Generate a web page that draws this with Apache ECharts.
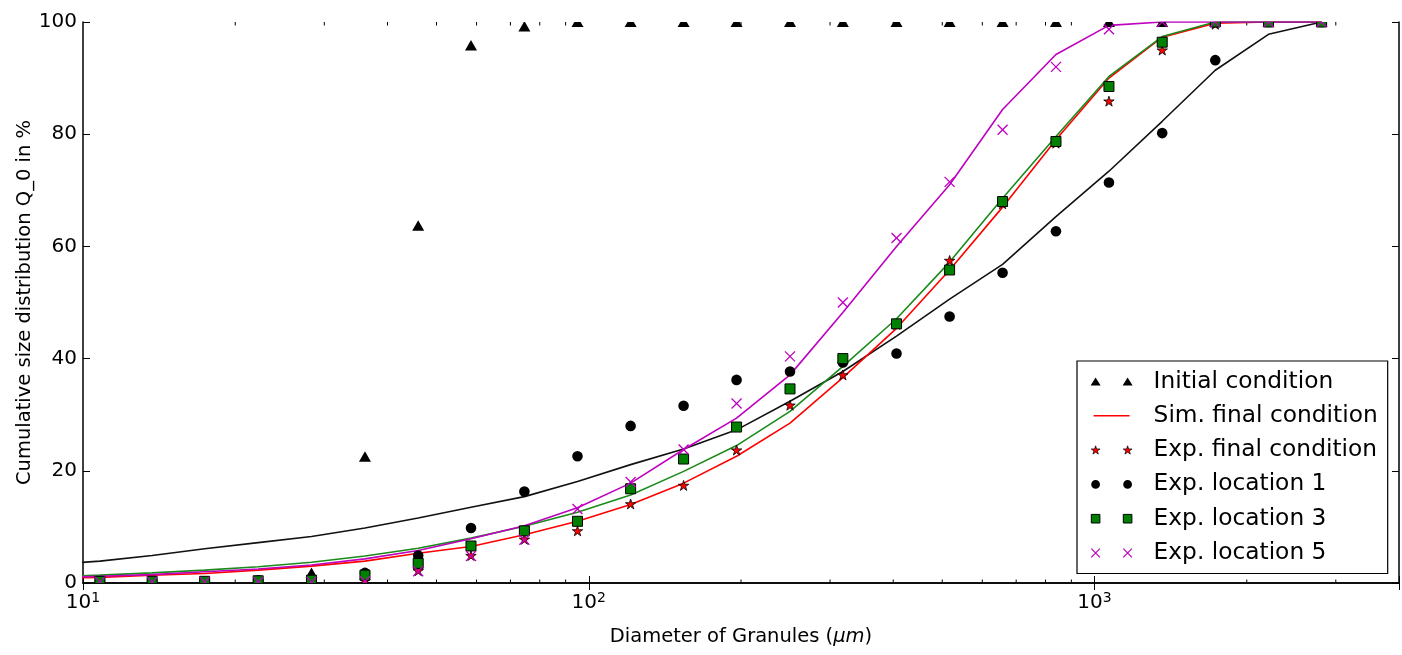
<!DOCTYPE html>
<html>
<head>
<meta charset="utf-8">
<script src="https://cdn.jsdelivr.net/npm/echarts@6/dist/echarts.min.js"></script>
<style>
  html, body { margin: 0; padding: 0; background: #ffffff; }
  #chart { width: 1402px; height: 655px; }
</style>
</head>
<body>
<div id="chart"></div>
<script>
// Granule diameter of each size class (µm)
const diameters = [10.8, 13.7, 17.4, 22.2, 28.3, 36.1, 46.0, 58.5, 74.6, 95.0, 121, 154,
                   196, 250, 318, 406, 517, 658, 839, 1068, 1361, 1733, 2208, 2812];
// Simulated curves carry one extra class below the plotted range
const simDiameters = [8.45].concat(diameters);

// Measured cumulative size distributions Q_0 (%)
const initialCondition = [0, 0, 0, 0, 1.8, 22.5, 63.7, 95.8, 99.2, 100, 100, 100,
                          100, 100, 100, 100, 100, 100, 100, 100, 100, 100, 100, 100];
const expFinal = [0.1, 0.1, 0.1, 0.2, 0.2, 0.3, 2.1, 4.8, 7.7, 9.2, 14.0, 17.3,
                  23.6, 31.6, 37.0, 46.0, 57.4, 67.5, 78.3, 85.8, 94.9, 99.5, 100, 100];
const expLocation1 = [0.2, 0.2, 0.2, 0.5, 0.6, 1.8, 4.9, 9.8, 16.3, 22.6, 28.0, 31.6,
                      36.2, 37.7, 39.3, 40.9, 47.5, 55.3, 62.7, 71.4, 80.2, 93.2, 100, 100];
const expLocation3 = [0.3, 0.3, 0.3, 0.4, 0.5, 1.4, 3.5, 6.6, 9.3, 11.0, 16.8, 22.1,
                      27.8, 34.6, 40.0, 46.2, 55.8, 68.0, 78.7, 88.5, 96.4, 100, 100, 100];
const expLocation5 = [0.2, 0.2, 0.2, 0.2, 0.2, 0.3, 2.1, 4.8, 7.7, 13.2, 18.0, 23.8,
                      32.0, 40.4, 50.0, 61.5, 71.5, 80.8, 92.0, 98.7, 100, 100, 100, 100];

// Simulated cumulative size distributions Q_0 (%), on simDiameters
const simFinal = [0.8, 1.0, 1.4, 1.7, 2.3, 3.0, 3.9, 5.3, 6.5, 8.6, 11.0, 14.0, 17.8,
                  22.6, 28.5, 36.6, 45.4, 55.8, 67.0, 79.0, 90.0, 97.3, 99.8, 100, 100];
const simLocation1 = [3.2, 3.9, 4.9, 6.1, 7.2, 8.3, 9.8, 11.6, 13.5, 15.4, 18.1, 21.1, 23.9,
                      27.3, 32.4, 37.7, 44.0, 50.6, 56.8, 65.3, 73.4, 82.3, 91.4, 97.8, 100];
const simLocation3 = [1.1, 1.4, 1.8, 2.3, 2.9, 3.7, 4.8, 6.2, 8.0, 10.1, 12.6, 15.7, 19.9,
                      24.5, 30.6, 38.6, 47.1, 57.2, 68.6, 79.6, 90.3, 97.4, 100, 100, 100];
const simLocation5 = [0.9, 1.2, 1.5, 2.0, 2.5, 3.2, 4.3, 5.8, 7.9, 10.2, 13.4, 17.8, 23.8,
                      29.4, 37.1, 48.2, 60.0, 71.0, 84.4, 94.2, 99.4, 100, 100, 100, 100];

// Axis ranges and tick settings
const xRange = [10, 4000];
const yRange = [0, 100];
const yTickStep = 20;

const FONT = 'DejaVu Sans';
const pairs = (xs, ys) => xs.map((x, i) => [x, ys[i]]);

// Minor ticks of the log axis: 2..9 × each decade
const minorTickValues = [];
[10, 100, 1000].forEach(d => {
  for (let m = 2; m <= 9; m++) if (m * d < xRange[1]) minorTickValues.push(m * d);
});

// ---- marker geometry ----
function starPoints(cx, cy, R) {
  const r = R * 0.382, pts = [];
  for (let k = 0; k < 10; k++) {
    const a = -Math.PI / 2 + k * Math.PI / 5;
    const rr = k % 2 ? r : R;
    pts.push([cx + rr * Math.cos(a), cy + rr * Math.sin(a)]);
  }
  return pts;
}
const drawTriangle = (cx, cy) => ({
  type: 'polygon',
  shape: { points: [[cx, cy - 5.5], [cx + 6, cy + 5], [cx - 6, cy + 5]] },
  style: { fill: '#000000' }
});
const drawCircle = (cx, cy) => ({
  type: 'circle', shape: { cx, cy, r: 5.3 }, style: { fill: '#000000' }
});
const drawSquare = (cx, cy) => ({
  type: 'rect', shape: { x: cx - 5, y: cy - 5, width: 10, height: 10 },
  style: { fill: '#008000', stroke: '#000000', lineWidth: 1 }
});
const drawStar = (cx, cy) => ({
  type: 'polygon', shape: { points: starPoints(cx, cy, 5.5) },
  style: { fill: '#ff0000', stroke: '#000000', lineWidth: 0.8 }
});
const drawCross = (cx, cy) => ({
  type: 'group',
  children: [
    { type: 'line', shape: { x1: cx - 5, y1: cy - 5, x2: cx + 5, y2: cy + 5 },
      style: { stroke: '#bf00bf', lineWidth: 1.3 } },
    { type: 'line', shape: { x1: cx + 5, y1: cy - 5, x2: cx - 5, y2: cy + 5 },
      style: { stroke: '#bf00bf', lineWidth: 1.3 } }
  ]
});

function markerSeries(name, values, draw) {
  return {
    type: 'custom',
    name: name,
    coordinateSystem: 'cartesian2d',
    clip: true,
    lineStyle: { width: 0.01 },
    data: pairs(diameters, values),
    encode: { x: 0, y: 1 },
    z: 4,
    renderItem: (params, api) => {
      const p = api.coord([api.value(0), api.value(1)]);
      return draw(p[0], p[1]);
    }
  };
}

function lineSeries(name, values, color) {
  return {
    type: 'line',
    name: name,
    data: pairs(simDiameters, values),
    symbol: 'none',
    smooth: false,
    clip: true,
    lineStyle: { color: color, width: 1.6 },
    itemStyle: { color: color },
    z: 3
  };
}

// ---- legend icons: two markers side by side in a 44×12 box ----
const ICON_W = 44, ICON_H = 12;
const pairIcon = shapeAt => 'path://M0,0M' + ICON_W + ',' + ICON_H + shapeAt(6, 6) + shapeAt(38, 6);
const iconTri = (cx, cy) => `M${cx - 5},${cy + 4}L${cx},${cy - 4}L${cx + 5},${cy + 4}Z`;
const iconCircle = (cx, cy) => {
  const r = 4.4;
  return `M${cx - r},${cy}A${r},${r} 0 1,1 ${cx + r},${cy}A${r},${r} 0 1,1 ${cx - r},${cy}Z`;
};
const iconSquare = (cx, cy) =>
  `M${cx - 4.3},${cy - 4.3}L${cx + 4.3},${cy - 4.3}L${cx + 4.3},${cy + 4.3}L${cx - 4.3},${cy + 4.3}Z`;
const iconStar = (cx, cy) =>
  starPoints(cx, cy + 0.3, 4.6).map((p, k) => (k ? 'L' : 'M') + p[0].toFixed(2) + ',' + p[1].toFixed(2)).join('') + 'Z';
const iconCross = (cx, cy) =>
  `M${cx - 4.3},${cy - 4.3}L${cx + 4.3},${cy + 4.3}M${cx + 4.3},${cy - 4.3}L${cx - 4.3},${cy + 4.3}`;
const iconLine = 'path://M0,0M' + ICON_W + ',' + ICON_H + 'M4,5.3L40,5.3L40,6.7L4,6.7Z';

const chart = echarts.init(document.getElementById('chart'), null, { renderer: 'canvas' });

const axisLineStyle = { color: '#000000', width: 1.5 };

chart.setOption({
  animation: false,
  backgroundColor: '#ffffff',
  textStyle: { fontFamily: FONT },
  grid: { left: 83, right: 3, top: 22, bottom: 72, containLabel: false },
  xAxis: [
    {
      type: 'log', logBase: 10, min: xRange[0], max: xRange[1], position: 'bottom',
      axisLine: { show: true, lineStyle: axisLineStyle },
      axisTick: { show: true, inside: true, length: 7, lineStyle: { color: '#000', width: 1 } },
      splitLine: { show: false },
      axisLabel: {
        margin: 8,
        color: '#000',
        formatter: v => {
          const e = Math.log10(v);
          return Math.abs(e - Math.round(e)) < 1e-6 ? '{b|10}{s|' + Math.round(e) + '}' : '';
        },
        rich: {
          b: { fontSize: 20, fontFamily: FONT, color: '#000', verticalAlign: 'bottom' },
          s: { fontSize: 14, fontFamily: FONT, color: '#000', verticalAlign: 'bottom', padding: [0, 0, 8, 0] }
        }
      },
      name: 'Diameter of Granules ({i|μm})',
      nameLocation: 'middle',
      nameGap: 44,
      nameMoveOverlap: false,
      nameTextStyle: {
        fontSize: 19.5, fontFamily: FONT, color: '#000',
        rich: { i: { fontSize: 19.5, fontFamily: FONT, fontStyle: 'italic', color: '#000' } }
      }
    },
    {
      type: 'log', logBase: 10, min: xRange[0], max: xRange[1], position: 'top',
      axisLine: { show: true, lineStyle: axisLineStyle },
      axisTick: { show: true, inside: true, length: 7, lineStyle: { color: '#000', width: 1 } },
      axisLabel: { show: false },
      splitLine: { show: false }
    }
  ],
  yAxis: [
    {
      type: 'value', min: yRange[0], max: yRange[1], interval: yTickStep, position: 'left',
      axisLine: { show: true, lineStyle: axisLineStyle },
      axisTick: { show: true, inside: true, length: 7, lineStyle: { color: '#000', width: 1 } },
      splitLine: { show: false },
      axisLabel: { margin: 6, fontSize: 20, fontFamily: FONT, color: '#000' },
      name: 'Cumulative size distribution Q_0 in %',
      nameLocation: 'middle',
      nameRotate: 90,
      nameGap: 48,
      nameMoveOverlap: false,
      nameTextStyle: { fontSize: 19.5, fontFamily: FONT, color: '#000' }
    },
    {
      type: 'value', min: yRange[0], max: yRange[1], interval: yTickStep, position: 'right',
      axisLine: { show: true, lineStyle: axisLineStyle },
      axisTick: { show: true, inside: true, length: 7, lineStyle: { color: '#000', width: 1 } },
      axisLabel: { show: false },
      splitLine: { show: false }
    }
  ],
  legend: {
    orient: 'vertical',
    left: 1077,
    top: 361,
    padding: [9, 10, 9, 12],
    itemWidth: ICON_W,
    itemHeight: ICON_H,
    itemGap: 11.3,
    backgroundColor: '#ffffff',
    borderColor: '#000000',
    borderWidth: 1.2,
    borderRadius: 0,
    selectedMode: false,
    textStyle: { fontSize: 23.3, fontFamily: FONT, color: '#000', padding: [0, 0, 0, 15] },
    data: [
      { name: 'Initial condition', icon: pairIcon(iconTri),
        itemStyle: { color: '#000000', borderWidth: 0 } },
      { name: 'Sim. final condition', icon: iconLine,
        itemStyle: { color: '#ff0000', borderWidth: 0 } },
      { name: 'Exp. final condition', icon: pairIcon(iconStar),
        itemStyle: { color: '#ff0000', borderColor: '#000000', borderWidth: 0.7 } },
      { name: 'Exp. location 1', icon: pairIcon(iconCircle),
        itemStyle: { color: '#000000', borderWidth: 0 } },
      { name: 'Exp. location 3', icon: pairIcon(iconSquare),
        itemStyle: { color: '#008000', borderColor: '#000000', borderWidth: 1 } },
      { name: 'Exp. location 5', icon: pairIcon(iconCross),
        itemStyle: { color: 'rgba(0,0,0,0)', borderColor: '#bf00bf', borderWidth: 1.2 } }
    ]
  },
  series: [
    // minor ticks of the logarithmic axis, bottom and top frame edges
    {
      type: 'custom',
      name: 'minor ticks',
      coordinateSystem: 'cartesian2d',
      silent: true,
      data: minorTickValues.map(v => [v, 0]),
      encode: { x: 0, y: 1 },
      z: 1,
      renderItem: (params, api) => {
        const x = api.coord([api.value(0), 0])[0];
        const cs = params.coordSys;
        const st = { stroke: '#000000', lineWidth: 1 };
        return {
          type: 'group',
          children: [
            { type: 'line', shape: { x1: x, y1: cs.y + cs.height, x2: x, y2: cs.y + cs.height - 3.5 }, style: st },
            { type: 'line', shape: { x1: x, y1: cs.y, x2: x, y2: cs.y + 3.5 }, style: st }
          ]
        };
      }
    },
    lineSeries('Sim. location 1', simLocation1, '#111111'),
    lineSeries('Sim. final condition', simFinal, '#ff0000'),
    lineSeries('Sim. location 3', simLocation3, '#1a8a1a'),
    lineSeries('Sim. location 5', simLocation5, '#bf00bf'),
    markerSeries('Initial condition', initialCondition, drawTriangle),
    markerSeries('Exp. final condition', expFinal, drawStar),
    markerSeries('Exp. location 1', expLocation1, drawCircle),
    markerSeries('Exp. location 3', expLocation3, drawSquare),
    markerSeries('Exp. location 5', expLocation5, drawCross)
  ]
});
</script>
</body>
</html>
